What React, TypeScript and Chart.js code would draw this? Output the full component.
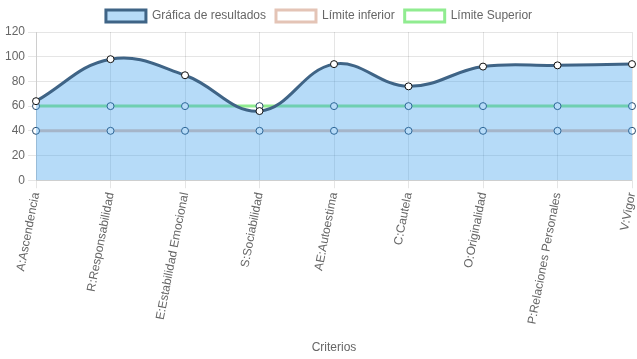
import React, { useEffect, useRef } from "react";
import { Chart, registerables } from "chart.js";

Chart.register(...registerables);

const categories = [
  "A:Ascendencia",
  "R:Responsabilidad",
  "E:Estabilidad Emocional",
  "S:Sociabilidad",
  "AE:Autoestima",
  "C:Cautela",
  "O:Originalidad",
  "P:Relaciones Personales",
  "V:Vigor",
];
const resultados = [64, 98, 85, 56, 94, 76, 92, 93, 94];
const limiteInferior = [40, 40, 40, 40, 40, 40, 40, 40, 40];
const limiteSuperior = [60, 60, 60, 60, 60, 60, 60, 60, 60];

export default function App() {
  const ref = useRef<HTMLCanvasElement | null>(null);
  useEffect(() => {
    document.body.style.margin = "0";
    Chart.defaults.font.family = "'Helvetica Neue', Helvetica, Arial, sans-serif";
    Chart.defaults.font.size = 12;
    Chart.defaults.color = "#666";
    const chart = new Chart(ref.current!, {
      type: "line",
      data: {
        labels: categories,
        datasets: [
          {
            label: "Gráfica de resultados",
            data: resultados,
            fill: "origin",
            backgroundColor: "rgba(54,155,235,0.36)",
            borderColor: "#3f6486",
            borderWidth: 3,
            tension: 0.4,
            pointBackgroundColor: "#fff",
            pointBorderColor: "#111",
            pointBorderWidth: 1,
            pointRadius: 3.5,
          },
          {
            label: "Límite inferior",
            data: limiteInferior,
            fill: false,
            backgroundColor: "#fff",
            borderColor: "rgba(228,196,182,1)",
            borderWidth: 3,
            tension: 0.4,
            pointBackgroundColor: "#fff",
            pointBorderColor: "#2a4a6a",
            pointBorderWidth: 1,
            pointRadius: 3.5,
          },
          {
            label: "Límite Superior",
            data: limiteSuperior,
            fill: false,
            backgroundColor: "#fff",
            borderColor: "rgba(144,236,144,1)",
            borderWidth: 3,
            tension: 0.4,
            pointBackgroundColor: "#fff",
            pointBorderColor: "#2a4a6a",
            pointBorderWidth: 1,
            pointRadius: 3.5,
          },
        ],
      },
      options: {
        animation: false,
        responsive: true,
        maintainAspectRatio: false,
        layout: { padding: { right: 1, left: 2 } },
        plugins: {
          legend: {
            position: "top",
            labels: { boxWidth: 40, color: "#666" },
          },
          tooltip: { enabled: false },
        },
        scales: {
          x: {
            grid: { color: "rgba(0,0,0,0.1)" },
            ticks: { minRotation: 79, maxRotation: 79, color: "#666" },
            title: { display: true, text: "Criterios", color: "#666" },
            afterFit: (scale: any) => {
              scale.paddingRight = 0;
              scale.height += 8;
            },
          },
          y: {
            min: 0,
            max: 120,
            ticks: { stepSize: 20, color: "#666" },
            grid: { color: "rgba(0,0,0,0.1)" },
          },
        },
      },
    });
    return () => chart.destroy();
  }, []);
  return (
    <div style={{ position: "fixed", left: 0, top: 0, width: 637, height: 359 }}>
      <canvas ref={ref} />
    </div>
  );
}
